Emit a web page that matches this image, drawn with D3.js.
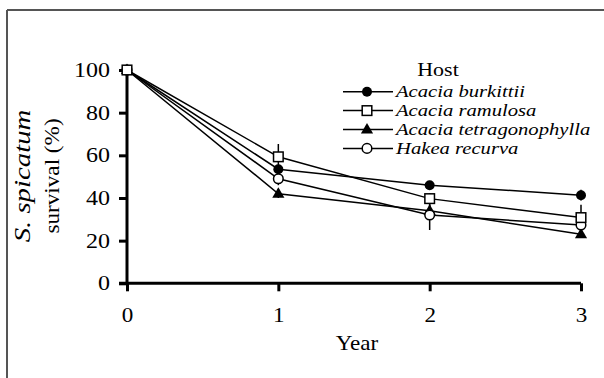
<!DOCTYPE html>
<html>
<head>
<meta charset="utf-8">
<script src="https://cdn.jsdelivr.net/npm/d3@7"></script>
<style>
  body { margin: 0; background: #fff; }
  svg { display: block; }
  text { font-family: "Liberation Serif", "Times New Roman", serif; fill: #000; }
</style>
</head>
<body>
<div id="chart"></div>
<script>
// data
var years = [0, 1, 2, 3];
var yTicks = [0, 20, 40, 60, 80, 100];
var hosts = ["Acacia burkittii", "Acacia ramulosa", "Acacia tetragonophylla", "Hakea recurva"];
var symbols = ["circleFilled", "square", "triangle", "circleOpen"];
var burkittii = [100, 53.5, 46, 41.3];
var ramulosa = [100, 59.3, 39.7, 30.8];
var tetragonophylla = [100, 42, 34, 23];
var hakea = [100, 49, 32, 27.3];
var errBurkittii = [0, 2, 2, 2.5];
var errRamulosa = [0, 6, 2.5, 6];
var errTetragonophylla = [0, 2, 3, 1.5];
var errHakea = [0, 3, 7, 2];

var seriesValues = [burkittii, ramulosa, tetragonophylla, hakea];
var seriesErr = [errBurkittii, errRamulosa, errTetragonophylla, errHakea];

var width = 604, height = 378;
var serif = "'Liberation Serif', 'Times New Roman', serif";

var svg = d3.select("#chart").append("svg").attr("width", width).attr("height", height);

// frame
svg.append("line").attr("x1", 7).attr("y1", 10).attr("x2", 604).attr("y2", 10)
  .attr("stroke", "#555").attr("stroke-width", 2);
svg.append("line").attr("x1", 7).attr("y1", 10).attr("x2", 7).attr("y2", 378)
  .attr("stroke", "#555").attr("stroke-width", 2);

var x = d3.scaleLinear().domain([0, 3]).range([127, 581]);
var y = d3.scaleLinear().domain([0, 100]).range([283.3, 70]);

// axes
var xAxis = svg.append("g").attr("transform", "translate(0," + y(0) + ")")
  .call(d3.axisBottom(x).tickValues(years).tickFormat(d3.format("d")).tickSize(8).tickPadding(16));
var yAxis = svg.append("g").attr("transform", "translate(" + x(0) + ",0)")
  .call(d3.axisLeft(y).tickValues(yTicks).tickSize(8).tickPadding(9));

[xAxis, yAxis].forEach(function(g) {
  g.attr("font-family", serif);
  g.select(".domain").attr("stroke", "#000").attr("stroke-width", 3);
  g.selectAll(".tick line").attr("stroke", "#000").attr("stroke-width", 3);
  g.selectAll(".tick text").style("font-family", serif).attr("fill", "#000");
});
xAxis.select(".domain").attr("d", "M" + (x(0) - 8) + ",0H" + x(3));
yAxis.select(".domain").attr("d", "M0," + y(0) + "V" + y(100));

// the original glyphs are wider than Times, so stretch along the baseline
xAxis.selectAll(".tick text").style("font-size", "21px")
  .attr("transform", "scale(1.1,1)");
yAxis.selectAll(".tick text").style("font-size", "20px")
  .attr("x", -17 / 1.2).attr("transform", "scale(1.2,1)");

// axis titles
svg.append("text").attr("transform", "translate(357,350) scale(1.1,1)").attr("text-anchor", "middle")
  .style("font-size", "21px").text("Year");

svg.append("text").attr("transform", "translate(30,176) rotate(-90) scale(1.2,1)").attr("text-anchor", "middle")
  .style("font-size", "24px").style("font-style", "italic").text("S. spicatum");
svg.append("text").attr("transform", "translate(59,176) rotate(-90) scale(1.16,1)").attr("text-anchor", "middle")
  .style("font-size", "20px").text("survival (%)");

var line = d3.line().x(function(d, i) { return x(years[i]); }).y(function(d) { return y(d); });

function drawMarker(g, type, cx, cy) {
  if (type === "circleFilled") {
    g.append("circle").attr("cx", cx).attr("cy", cy).attr("r", 5).attr("fill", "#000");
  } else if (type === "circleOpen") {
    g.append("circle").attr("cx", cx).attr("cy", cy).attr("r", 4.8).attr("fill", "#fff")
      .attr("stroke", "#000").attr("stroke-width", 1.5);
  } else if (type === "square") {
    g.append("rect").attr("x", cx - 4.8).attr("y", cy - 4.8).attr("width", 9.6).attr("height", 9.6)
      .attr("fill", "#fff").attr("stroke", "#000").attr("stroke-width", 1.5);
  } else if (type === "triangle") {
    g.append("path").attr("d", d3.symbol().type(d3.symbolTriangle).size(64)())
      .attr("transform", "translate(" + cx + "," + (cy + 0.5) + ")").attr("fill", "#000");
  }
}

var plot = svg.append("g");

// error bars
seriesValues.forEach(function(vals, s) {
  vals.forEach(function(v, i) {
    var e = seriesErr[s][i];
    if (e > 0) {
      plot.append("line").attr("x1", x(years[i])).attr("x2", x(years[i]))
        .attr("y1", y(v - e)).attr("y2", y(v + e))
        .attr("stroke", "#000").attr("stroke-width", 1.5);
    }
  });
});

// lines
seriesValues.forEach(function(vals) {
  plot.append("path").datum(vals).attr("d", line)
    .attr("fill", "none").attr("stroke", "#000").attr("stroke-width", 1.5);
});

// markers (open ones last so they sit on top at year 0)
[2, 0, 3, 1].forEach(function(s) {
  seriesValues[s].forEach(function(v, i) {
    drawMarker(plot, symbols[s], x(years[i]), y(v));
  });
});

// legend
var legend = svg.append("g");
legend.append("text").attr("transform", "translate(438,76) scale(1.22,1)").attr("text-anchor", "middle")
  .style("font-size", "18px").text("Host");
hosts.forEach(function(h, i) {
  var ly = 91.7 + i * 18.9;
  legend.append("line").attr("x1", 343).attr("x2", 393).attr("y1", ly).attr("y2", ly)
    .attr("stroke", "#000").attr("stroke-width", 1.5);
  drawMarker(legend, symbols[i], 367, ly);
  legend.append("text").attr("transform", "translate(396," + (ly + 5.5) + ") scale(1.18,1)")
    .style("font-size", "17.5px").style("font-style", "italic").text(h);
});
</script>
</body>
</html>
